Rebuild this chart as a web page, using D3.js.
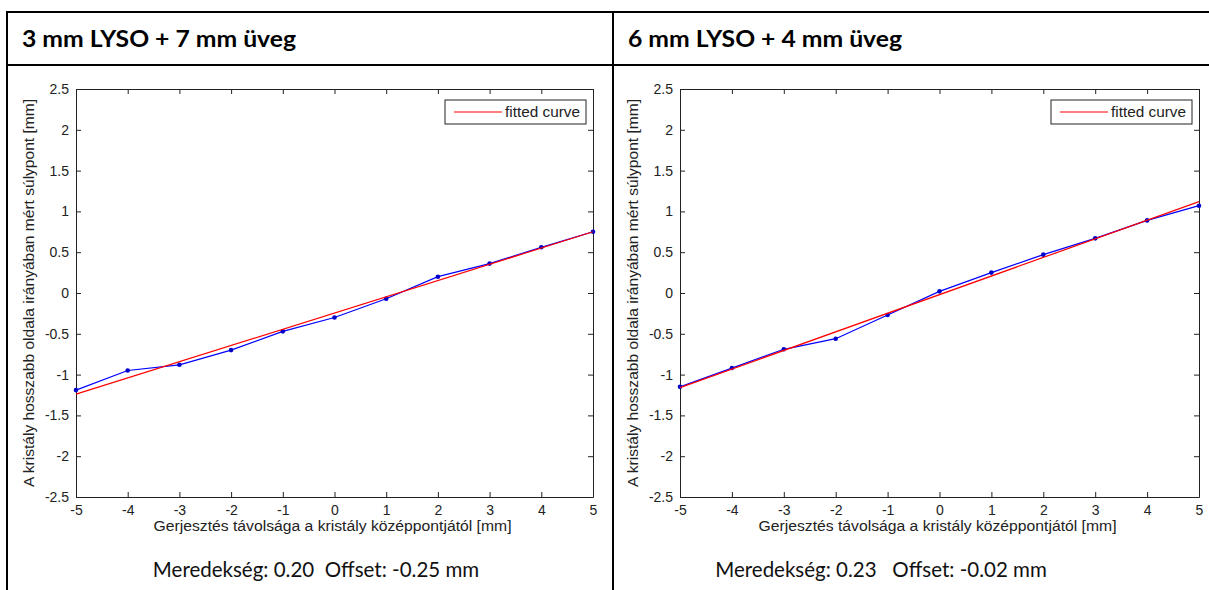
<!DOCTYPE html>
<html>
<head>
<meta charset="utf-8">
<script src="https://cdn.jsdelivr.net/npm/d3@7"></script>
<style>
  body { margin: 0; background: #fff; }
  svg { display: block; }
</style>
</head>
<body>
<svg id="chart" width="1209" height="590"></svg>
<script>
// measured positions along the crystal (mm)
const xPos = [-5, -4, -3, -2, -1, 0, 1, 2, 3, 4, 5];

// panel 1: 3 mm LYSO + 7 mm glass
const measured1 = [-1.19, -0.95, -0.88, -0.70, -0.47, -0.30, -0.07, 0.20, 0.36, 0.56, 0.75];
const fitEnds1 = [-1.24, 0.75];
// panel 2: 6 mm LYSO + 4 mm glass
const measured2 = [-1.15, -0.92, -0.69, -0.56, -0.27, 0.02, 0.25, 0.47, 0.67, 0.89, 1.07];
const fitEnds2 = [-1.16, 1.12];

const titles = ["3 mm LYSO + 7 mm üveg", "6 mm LYSO + 4 mm üveg"];
const captions = ["Meredekség: 0.20\u00a0\u00a0Offset: -0.25 mm", "Meredekség: 0.23\u00a0\u00a0\u00a0Offset: -0.02 mm"];
const xTicks = [-5, -4, -3, -2, -1, 0, 1, 2, 3, 4, 5];
const yTicks = [-2.5, -2, -1.5, -1, -0.5, 0, 0.5, 1, 1.5, 2, 2.5];

const xLabel = "Gerjesztés távolsága a kristály középpontjától [mm]";
const yLabel = "A kristály hosszabb oldala irányában mért súlypont [mm]";

const svg = d3.select("#chart");

// table frame around the two panels
const frame = svg.append("g").attr("stroke", "#000").attr("stroke-width", 2);
frame.append("line").attr("x1", 6).attr("x2", 1209).attr("y1", 12).attr("y2", 12);
frame.append("line").attr("x1", 6).attr("x2", 1209).attr("y1", 65).attr("y2", 65);
frame.append("line").attr("x1", 7).attr("x2", 7).attr("y1", 11).attr("y2", 590);
frame.append("line").attr("x1", 613).attr("x2", 613).attr("y1", 11).attr("y2", 590);

const panels = [
  { left: 76, right: 593, cellX: 7, capX: 316, measured: measured1, fit: fitEnds1 },
  { left: 680, right: 1199, cellX: 613, capX: 881, measured: measured2, fit: fitEnds2 }
];

const plotTop = 89, plotBottom = 497;
const axisFont = "'Liberation Sans', Arial, sans-serif";
const plain = d => String(d); // hyphen minus like the original, not U+2212

panels.forEach((p, i) => {
  const g = svg.append("g");

  g.append("text")
    .attr("x", p.cellX + 15).attr("y", 47)
    .attr("font-family", "Lato, 'Open Sans', sans-serif")
    .attr("font-weight", "bold").attr("font-size", 23.5)
    .attr("textLength", 274).attr("lengthAdjust", "spacingAndGlyphs")
    .text(titles[i]);

  const x = d3.scaleLinear().domain([-5, 5]).range([p.left, p.right]);
  const y = d3.scaleLinear().domain([-2.5, 2.5]).range([plotBottom, plotTop]);

  // axes with inward ticks, MATLAB style
  const ax = g.append("g");
  ax.append("g").attr("transform", `translate(0,${plotBottom})`)
    .call(d3.axisBottom(x).tickValues(xTicks).tickSizeInner(-5).tickSizeOuter(0).tickPadding(8).tickFormat(plain));
  ax.append("g").attr("transform", `translate(0,${plotTop})`)
    .call(d3.axisTop(x).tickValues(xTicks).tickSizeInner(-5).tickSizeOuter(0).tickFormat(""));
  ax.append("g").attr("transform", `translate(${p.left},0)`)
    .call(d3.axisLeft(y).tickValues(yTicks).tickSizeInner(-5).tickSizeOuter(0).tickPadding(7).tickFormat(plain));
  ax.append("g").attr("transform", `translate(${p.right},0)`)
    .call(d3.axisRight(y).tickValues(yTicks).tickSizeInner(-5).tickSizeOuter(0).tickFormat(""));
  ax.selectAll("g").attr("font-family", axisFont);
  ax.selectAll(".domain").attr("stroke", "#222");
  ax.selectAll(".tick line").attr("stroke", "#222");
  ax.selectAll(".tick text").attr("font-size", 14).attr("fill", "#222");

  // axis titles
  g.append("text")
    .attr("x", (p.left + p.right) / 2 - 2).attr("y", 531)
    .attr("text-anchor", "middle")
    .attr("font-family", axisFont)
    .attr("font-size", 14).attr("fill", "#222")
    .attr("textLength", 358).attr("lengthAdjust", "spacingAndGlyphs")
    .text(xLabel);
  g.append("text")
    .attr("transform", `translate(${p.left - 42},${(plotTop + plotBottom) / 2}) rotate(-90)`)
    .attr("text-anchor", "middle")
    .attr("font-family", axisFont)
    .attr("font-size", 14).attr("fill", "#222")
    .attr("textLength", 388).attr("lengthAdjust", "spacingAndGlyphs")
    .text(yLabel);

  // measured data
  const line = d3.line().x((d, j) => x(xPos[j])).y(d => y(d));
  g.append("path").datum(p.measured)
    .attr("d", line).attr("fill", "none")
    .attr("stroke", "#0000ff").attr("stroke-width", 1.2);
  g.selectAll(".pt").data(p.measured).join("circle")
    .attr("class", "pt")
    .attr("cx", (d, j) => x(xPos[j])).attr("cy", d => y(d))
    .attr("r", 2.3).attr("fill", "#0000cc");

  // fitted line
  g.append("line")
    .attr("x1", x(-5)).attr("y1", y(p.fit[0]))
    .attr("x2", x(5)).attr("y2", y(p.fit[1]))
    .attr("stroke", "#ff0000").attr("stroke-width", 1.2);

  // legend
  const lg = g.append("g").attr("transform", `translate(${p.right - 148},${plotTop + 11})`);
  lg.append("rect").attr("width", 141).attr("height", 24)
    .attr("fill", "#fff").attr("stroke", "#222").attr("stroke-width", 1);
  lg.append("line").attr("x1", 9).attr("x2", 57).attr("y1", 12).attr("y2", 12)
    .attr("stroke", "#ff0000").attr("stroke-width", 1.2);
  lg.append("text").attr("x", 60).attr("y", 17)
    .attr("font-family", axisFont)
    .attr("font-size", 14).attr("fill", "#222")
    .attr("textLength", 75).attr("lengthAdjust", "spacingAndGlyphs")
    .text("fitted curve");

  // caption under the plot
  g.append("text")
    .attr("x", p.capX).attr("y", 577)
    .attr("text-anchor", "middle")
    .attr("font-family", "Lato, 'Open Sans', sans-serif")
    .attr("font-size", 20.5).attr("fill", "#111")
    .text(captions[i]);
});
</script>
</body>
</html>
